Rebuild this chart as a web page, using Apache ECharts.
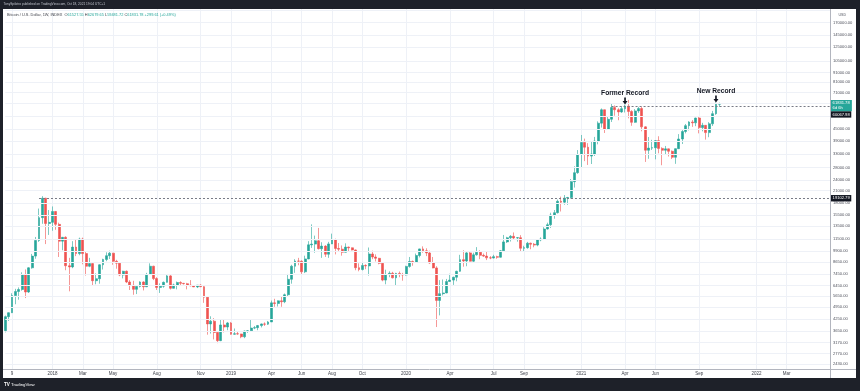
<!DOCTYPE html>
<html>
<head>
<meta charset="utf-8">
<script src="https://cdn.jsdelivr.net/npm/echarts@6/dist/echarts.min.js"></script>
<style>
html,body{margin:0;padding:0;background:#1e2129;}
#chart{width:860px;height:391px;}
</style>
</head>
<body>
<div id="chart"></div>
<script>
// ---------- data ----------
const startDate = '2017-09-25';   // first weekly candle (Monday)
const weekCount = 246;            // weeks spanned by the time axis (incl. empty future space)

const opens = [
 3680,4380,4600,5690,5990,6140,7390,5950,8040,9300,
 11300,15000,19102.79,13950,14150,16200,13800,11200,11750,8250,
 8130,10400,9600,11500,9600,8200,8470,6850,7020,8350,
 8920,9350,9650,8720,8520,7350,7700,6740,6460,6150,
 6380,6740,6350,7400,8200,7030,6300,6400,6710,7270,
 6230,6500,6700,6630,6600,6480,6420,6340,6480,6360,
 5580,4000,4140,3600,3250,3950,3850,4050,3520,3540,
 3530,3410,3660,3670,3800,3820,3920,4000,3990,4100,
 5200,5160,5330,5270,5750,6970,8200,8750,8730,7650,
 8980,10700,10800,11250,10200,10530,9520,10820,11390,10230,
 10140,9760,10400,10310,10040,8050,7870,8280,8230,9550,
 9200,9050,8500,6900,7400,7520,7100,7500,7390,7360,
 8180,8700,8600,9370,10170,9930,9670,8540,8030,5360,
 5830,5880,6780,6900,7150,7700,8900,8750,9680,8730,
 9450,9750,9390,9300,9100,9080,9240,9170,9930,11100,
 11680,11900,11650,11700,10250,10330,10920,10780,10670,11380,
 11500,13030,13740,15480,15960,18400,18180,19150,19270,23480,
 26250,32900,38200,36030,32270,33100,38900,48600,57400,45200,
 51000,59000,57400,55900,58200,60067.98,56200,49100,56600,58300,
 46400,34700,35650,35800,39100,35500,34700,35300,34250,31800,
 35400,39900,43800,47100,49300,48800,51800,46000,47300,43200,
 48200,54700,61527.55
];
const highs = [
 4440,4620,5860,6190,6300,7600,7880,8100,9560,11800,
 16800,19600,19200,16500,17250,16300,14100,11800,11900,9100,
 11200,11400,11700,11700,9900,9100,8500,7500,8400,9000,
 9750,9950,9680,8880,8530,7750,7780,6900,6840,6480,
 6800,6800,7550,8500,8250,7150,6620,6780,7420,7410,
 6600,6780,6800,6660,6670,6900,6470,6470,6550,6400,
 5620,4400,4300,3640,4200,4230,4100,4100,3780,3630,
 3540,3680,3700,4200,3900,3950,4020,4080,4150,5350,
 5470,5360,5630,5840,7450,8350,8950,9100,8820,9350,
 11200,13800,12000,13200,11050,10650,11100,12300,11550,10950,
 10620,10900,10470,10350,10100,8500,8650,8400,10350,9950,
 9500,9100,8520,7850,7700,7650,7550,7680,7550,8250,
 9200,8800,9600,10200,10500,10250,9950,9200,8200,6900,
 6950,7000,7470,7200,7750,9450,10000,9850,9900,9700,
 10400,10000,9600,9800,9300,9450,9350,10020,12100,11820,
 12080,12480,11780,12070,10580,11100,10990,10950,11480,11740,
 13330,14090,15950,16500,18790,19480,19880,19420,24250,28420,
 34780,41950,40100,37900,38560,40950,49700,58350,57500,52600,
 61700,60600,58500,60000,61200,64900,57100,57900,59500,59600,
 46700,40900,39500,39400,41300,36000,36600,35400,34600,35500,
 42400,44700,48100,49800,50500,52000,52900,48800,47400,49200,
 56600,62900,62679.65
];
const lows = [
 3600,4150,4580,5110,5410,6050,5520,5880,7950,9000,
 11100,13900,10800,12100,12750,12900,9200,10000,7800,6000,
 8000,9300,9400,8400,7300,8100,6450,6550,6600,7870,
 8730,8970,8350,7950,7250,7050,6650,6100,5750,5800,
 6300,6070,6330,7350,6900,6100,5880,6280,6690,6140,
 6220,6150,6460,6530,6150,6400,6330,6250,6320,5200,
 3500,3550,3300,3150,3230,3600,3700,3500,3500,3500,
 3350,3350,3580,3660,3750,3700,3830,3900,3950,4100,
 4950,4970,4950,5180,5650,6600,7550,8300,7450,7530,
 8950,10300,9700,10100,9100,9200,9100,10800,9500,9800,
 9350,9740,9900,9980,7800,7700,7780,7900,7300,8950,
 8700,8400,6800,6550,7150,7050,6450,7150,6850,7300,
 8050,8250,8550,9150,9700,9300,8450,7990,3850,4450,
 5700,5860,6750,6500,6800,7650,8150,8200,8700,8650,
 9350,8950,9200,8850,8950,9030,9000,9130,9880,10950,
 11150,11380,11130,9900,9880,10200,10130,10380,10510,11190,
 11380,12930,13200,14800,15790,16200,17620,17590,19000,21810,
 25880,28100,30300,28900,29240,32300,37350,46000,43000,44950,
 49300,53300,50400,55200,55500,51600,47000,48800,55200,43900,
 30000,31200,34800,31000,33400,28800,32700,32100,31100,29300,
 35200,37500,42800,44400,46400,46800,42800,43900,39600,40800,
 46900,53900,59481.72
];
const closes = [
 4380,4600,5690,5990,6140,7390,5950,8040,9300,11300,
 15000,19102.79,13950,14150,16200,13800,11200,11750,8250,8130,
 10400,9600,11500,9600,8200,8470,6850,7020,8350,8920,
 9350,9650,8720,8520,7350,7700,6740,6460,6150,6380,
 6740,6350,7400,8200,7030,6300,6400,6710,7270,6230,
 6500,6700,6630,6600,6480,6420,6340,6480,6360,5580,
 4000,4140,3600,3250,3950,3850,4050,3520,3540,3530,
 3410,3660,3670,3800,3820,3920,4000,3990,4100,5200,
 5160,5330,5270,5750,6970,8200,8750,8730,7650,8980,
 10700,10800,11250,10200,10530,9520,10820,11390,10230,10140,
 9760,10400,10310,10040,8050,7870,8280,8230,9550,9200,
 9050,8500,6900,7400,7520,7100,7500,7390,7360,8180,
 8700,8600,9370,10170,9930,9670,8540,8030,5360,5830,
 5880,6780,6900,7150,7700,8900,8750,9680,8730,9450,
 9750,9390,9300,9100,9080,9240,9170,9930,11100,11680,
 11900,11650,11700,10250,10330,10920,10780,10670,11380,11500,
 13030,13740,15480,15960,18400,18180,19150,19270,23480,26250,
 32900,38200,36030,32270,33100,38900,48600,57400,45200,51000,
 59000,57400,55900,58200,60067.98,56200,49100,56600,58300,46400,
 34700,35650,35800,39100,35500,34700,35300,34250,31800,35400,
 39900,43800,47100,49300,48800,51800,46000,47300,43200,48200,
 54700,61527.55,61831.78
];

// time-axis tick labels (first weekly candle of each labelled month)
const xLabelDates = ['2017-10-09','2018-01-01','2018-03-05','2018-05-07','2018-08-06','2018-11-05',
  '2019-01-07','2019-04-01','2019-06-03','2019-08-05','2019-10-07','2020-01-06','2020-04-06',
  '2020-07-06','2020-09-07','2021-01-04','2021-04-05','2021-06-07','2021-09-06','2022-01-03','2022-03-07'];
const xLabelTexts = ['9','2018','Mar','May','Aug','Nov','2019','Apr','Jun','Aug','Oct','2020','Apr',
  'Jul','Sep','2021','Apr','Jun','Sep','2022','Mar'];

// price-scale ticks (log scale)
const yTickValues = [2430,2770,3170,3650,4250,4950,5650,6450,7450,8650,9900,11500,13500,15500,18000,
  21000,24000,28000,33000,39000,45000,53000,62000,71000,81000,91000,105000,125000,145000,170000,198000];
const yTickLabels = ['2430.00','2770.00','3170.00','3650.00','4250.00','4950.00','5650.00','6450.00',
  '7450.00','8650.00','9900.00','11500.00','13500.00','15500.00','18000.00','21000.00','24000.00',
  '28000.00','33000.00','39000.00','45000.00','','','71000.00','81000.00','91000.00','105000.00',
  '125000.00','145000.00','170000.00',''];

// horizontal reference lines drawn by the author
const refLineValues = [19102.79, 60067.98];
const refLineStarts = ['2017-12-04', '2021-03-08'];
const refLineLabels = ['19102.79', '60067.98'];

// last price box
const lastPrice = 61831.78;
const lastPriceLabel = '61831.78';
const lastPriceTimer = '6d 6h';

// annotations
const annotDates = ['2021-04-05', '2021-10-11'];
const annotTexts = ['Former Record', 'New Record'];

const headerText = 'TonySpilotro published on TradingView.com, Oct 18, 2021 19:04 UTC+1';
const symbolText = 'Bitcoin / U.S. Dollar, 1W, INDEX';
const legendValues = ['61527.55', '62679.65', '59481.72', '61831.78'];
const legendChange = '+299.61 (+0.49%)';

// ---------- build ----------
const FONT = '"Liberation Sans", Arial, sans-serif';
const UP = '#26a69a', DOWN = '#ef5350', DARK = '#1e2129';

const categories = [];
(function () {
  const p = startDate.split('-').map(Number);
  const t0 = Date.UTC(p[0], p[1] - 1, p[2]);
  for (let i = 0; i < weekCount; i++) {
    categories.push(new Date(t0 + i * 7 * 86400000).toISOString().slice(0, 10));
  }
})();
const lastCat = categories[categories.length - 1];
const labelMap = {};
xLabelDates.forEach((d, i) => { labelMap[d] = xLabelTexts[i]; });
const isLabelled = (idx, val) => Object.prototype.hasOwnProperty.call(labelMap, val);

const candleData = closes.map((c, i) => [opens[i], c, lows[i], highs[i]]);

const gridLineData = yTickValues.map((v, i) => ({
  yAxis: v,
  label: { show: yTickLabels[i] !== '', formatter: yTickLabels[i] }
}));

const boxLabel = (bg, extra) => Object.assign({
  show: true, position: 'end', distance: 0.5, backgroundColor: bg, color: '#ffffff',
  fontSize: 4.1, fontFamily: FONT, padding: [1, 1.6, 0.6, 1.6], lineHeight: 4.8
}, extra || {});

const refLineData = refLineValues.map((v, i) => [
  {
    coord: [refLineStarts[i], v],
    lineStyle: { color: '#787b86', width: 1, type: [2, 2] },
    label: boxLabel('#131722', Object.assign({ formatter: refLineLabels[i] }, i === 1 ? { offset: [0, 8.3] } : {}))
  },
  { coord: [lastCat, v] }
]);
refLineData.push({
  yAxis: lastPrice,
  lineStyle: { color: 'rgba(0,0,0,0)', width: 1, type: 'solid' },
  label: boxLabel(UP, { formatter: lastPriceLabel + '\n' + lastPriceTimer, offset: [0, 1.8], padding: [1, 2.2, 0.6, 1.6] })
});

const annotData = annotDates.map((d, i) => ({
  coord: [d, highs[categories.indexOf(d)]],
  label: { formatter: annotTexts[i] }
}));

const legendRich = '{t|' + symbolText + '}  {k|O}{v|' + legendValues[0] + '} {k|H}{v|' + legendValues[1] +
  '} {k|L}{v|' + legendValues[2] + '} {k|C}{v|' + legendValues[3] + '} {v|' + legendChange + '}';

const chart = echarts.init(document.getElementById('chart'), null, { renderer: 'canvas' });
chart.setOption({
  animation: false,
  backgroundColor: '#ffffff',
  grid: { left: 5.3, right: 29.5, top: 9, bottom: 22, containLabel: false, outerBoundsMode: 'none' },
  xAxis: {
    type: 'category', data: categories, boundaryGap: false,
    axisLine: { show: false }, axisTick: { show: false },
    axisLabel: {
      interval: isLabelled, formatter: v => labelMap[v] || '',
      fontSize: 4.5, color: '#3c3f48', margin: 2.6, fontFamily: FONT
    },
    splitLine: { show: true, interval: isLabelled, lineStyle: { color: '#eef1f7', width: 1 } }
  },
  yAxis: {
    type: 'log', logBase: 10, min: 2284, max: 201000, position: 'right',
    axisLine: { show: false }, axisTick: { show: false }, axisLabel: { show: false }, splitLine: { show: false }
  },
  series: [
    {
      type: 'line', data: [], z: 1, silent: true,
      markLine: {
        silent: true, symbol: ['none', 'none'], animation: false,
        lineStyle: { color: '#eef1f7', width: 1, type: 'solid' },
        label: { position: 'end', distance: 2.5, fontSize: 4.1, color: '#50535e', fontFamily: FONT },
        data: gridLineData
      }
    },
    {
      type: 'candlestick', z: 2, data: candleData, barWidth: 2.4, silent: true,
      itemStyle: { color: UP, color0: DOWN, borderColor: UP, borderColor0: DOWN, borderWidth: 0.6 },
      markLine: {
        silent: true, symbol: ['none', 'none'], animation: false,
        data: refLineData
      },
      markPoint: {
        silent: true, animation: false,
        symbol: 'path://M3,0L6,0L6,5L9,5L4.5,10L0,5L3,5Z',
        symbolSize: [5, 7], symbolOffset: [0, '-50%'],
        itemStyle: { color: '#131722' },
        label: { show: true, position: 'top', distance: 1, fontSize: 6.7, fontWeight: 'bold',
                 color: '#131722', fontFamily: FONT },
        data: annotData
      }
    }
  ],
  graphic: [
    { type: 'line', z: 50, shape: { x1: 3, y1: 369.5, x2: 856, y2: 369.5 }, style: { stroke: '#b2b5be', lineWidth: 1 } },
    { type: 'line', z: 50, shape: { x1: 830.5, y1: 9, x2: 830.5, y2: 378 }, style: { stroke: '#b2b5be', lineWidth: 1 } },
    { type: 'rect', z: 100, shape: { x: 0, y: 0, width: 860, height: 9 }, style: { fill: DARK } },
    { type: 'rect', z: 100, shape: { x: 0, y: 0, width: 3, height: 391 }, style: { fill: DARK } },
    { type: 'rect', z: 100, shape: { x: 856, y: 0, width: 4, height: 391 }, style: { fill: DARK } },
    { type: 'rect', z: 100, shape: { x: 0, y: 378, width: 860, height: 13 }, style: { fill: DARK } },
    { type: 'text', z: 101, x: 3.5, y: 4.6,
      style: { text: headerText, fill: '#c3c6ce', fontSize: 3.2, fontFamily: FONT, verticalAlign: 'middle' } },
    { type: 'text', z: 101, x: 7, y: 14.5,
      style: {
        text: legendRich, verticalAlign: 'middle', fontSize: 3.9, fontFamily: FONT,
        rich: {
          t: { fill: '#3c3f48', fontSize: 3.9, fontFamily: FONT },
          k: { fill: '#3c3f48', fontSize: 3.9, fontFamily: FONT },
          v: { fill: UP, fontSize: 3.9, fontFamily: FONT }
        }
      } },
    { type: 'text', z: 101, x: 838.5, y: 14.5,
      style: { text: 'USD', fill: '#50535e', fontSize: 3.6, fontFamily: FONT, verticalAlign: 'middle' } },
    { type: 'text', z: 101, x: 4, y: 385,
      style: { text: '{b|TV} TradingView', fill: '#ffffff', fontSize: 4.3, fontFamily: FONT, verticalAlign: 'middle',
               rich: { b: { fill: '#ffffff', fontSize: 4.6, fontWeight: 'bold', fontFamily: FONT } } } }
  ]
});
</script>
</body>
</html>
